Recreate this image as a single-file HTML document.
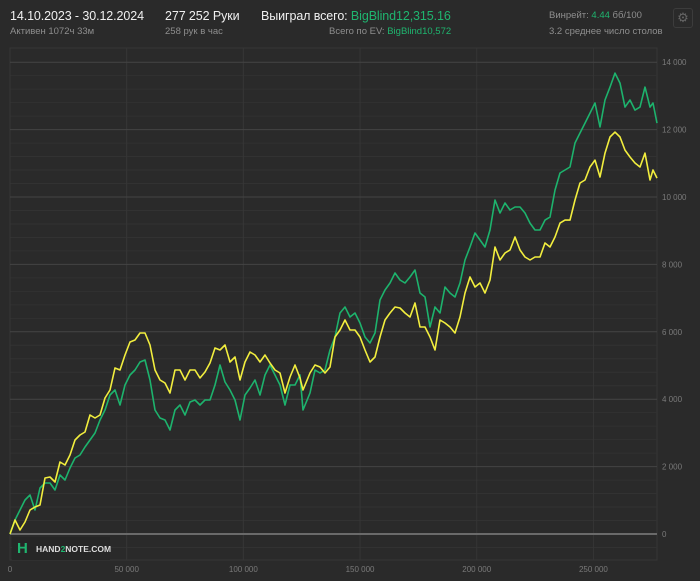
<!DOCTYPE html>
<html><head><meta charset="utf-8">
<style>
body{margin:0;width:700px;height:581px;background:#2a2a2a;font-family:"Liberation Sans","DejaVu Sans",sans-serif;overflow:hidden;position:relative}
.t{position:absolute;white-space:nowrap}
.big{color:#f0f0f0;font-size:12.5px;letter-spacing:-0.1px}
.sm{color:#8e8e8e;font-size:9.5px}
.g{color:#1fb56f}
</style></head><body>
<div class="t big" style="left:10px;top:9px">14.10.2023 - 30.12.2024</div>
<div class="t sm" style="left:10px;top:26px">Активен 1072ч 33м</div>
<div class="t big" style="left:165px;top:9px">277 252 Руки</div>
<div class="t sm" style="left:165px;top:26px">258 рук в час</div>
<div class="t big" style="left:261px;top:9px">Выиграл всего: <span class="g">BigBlind12,315.16</span></div>
<div class="t sm" style="left:329px;top:26px">Всего по EV: <span class="g">BigBlind10,572</span></div>
<div class="t sm" style="left:549px;top:10px">Винрейт: <span class="g">4.44</span> бб/100</div>
<div class="t sm" style="left:549px;top:26px">3.2 среднее число столов</div>
<div class="t" style="left:673px;top:8px;width:18px;height:18px;border:1px solid #3c3c3c;border-radius:3px;color:#666;font-size:13px;text-align:center;line-height:18px">⚙</div>
<svg id="chart" width="700" height="581" style="position:absolute;left:0;top:0"></svg>
<div class="t" style="left:12px;top:537px;width:98px;height:23px;background:#262626">
<span style="position:absolute;left:5px;top:3px;color:#1fb56f;font-size:15px;font-weight:bold">H</span>
<span style="position:absolute;left:24px;top:7px;color:#ddd;font-size:8.5px;font-weight:bold">HAND<span class="g">2</span>NOTE.COM</span></div>
<script>
const hands=[0,2143,4285,6428,8570,10713,12855,14998,17140,19283,21425,23568,25710,27853,29995,32138,34280,36423,38565,40708,42850,44993,47135,49278,51420,53563,55705,57848,59990,62133,64275,66418,68560,70703,72845,74988,77130,79273,81415,83558,85700,87843,89985,92128,94270,96413,98555,100698,102840,104983,107125,109268,111410,113553,115695,117838,119980,122123,124265,125550,128550,130693,132835,134978,137120,139263,141405,143548,145690,147833,149975,152118,154260,156403,158545,160688,162830,164973,167115,169258,171400,173543,175685,177828,179970,182113,184255,186398,188540,190683,192825,194968,197110,199253,201395,203538,205680,207823,209965,212108,214250,216393,218535,220678,222820,224963,227105,229248,231390,233533,235675,237818,239960,242103,244245,246388,248530,250673,252815,254958,257100,259243,261385,263528,265670,267813,269955,272098,274240,275525,277252];
const won=[0,415,712,1009,1157,712,1365,1513,1513,1305,1750,1602,1958,2255,2344,2581,2789,2997,3382,3679,4124,4272,3827,4421,4718,4866,5103,5163,4569,3679,3442,3382,3086,3679,3827,3531,3916,3976,3827,3976,3976,4421,5014,4510,4272,3976,3382,4124,4332,4569,4124,4718,5014,4718,4421,3827,4421,4421,4718,3679,4183,4866,4777,4866,5459,5845,6557,6735,6438,6557,6260,5845,5667,5964,6943,7239,7447,7744,7536,7447,7625,7833,7150,7032,6142,6735,6557,7328,7150,7032,7447,8130,8515,8931,8723,8515,9020,9910,9524,9821,9613,9702,9702,9524,9227,9020,9020,9316,9405,10206,10711,10800,10889,11601,11898,12194,12491,12788,12076,12877,13262,13678,13381,12669,12877,12580,12669,13262,12669,12788,12194];
const ev=[0,415,119,356,712,801,860,1662,1691,1543,2136,2047,2344,2789,2937,3026,3531,3442,3531,4035,4272,4925,4866,5311,5697,5756,5964,5964,5608,4866,4569,4480,4183,4866,4866,4569,4866,4866,4629,4807,5074,5519,5459,5608,5103,5252,4569,5103,5400,5311,5103,5311,5074,4866,4777,4183,4658,5014,4629,4272,4777,5014,4955,4777,4955,5845,6053,6349,6053,6053,5845,5459,5103,5252,5845,6349,6557,6735,6705,6557,6438,6854,6142,6142,5845,5459,6349,6260,6142,5964,6438,7150,7625,7328,7447,7150,7536,8515,8130,8337,8426,8812,8426,8219,8130,8219,8219,8634,8515,8812,9227,9316,9316,9910,10414,10503,10889,11096,10592,11304,11779,11927,11779,11393,11186,11008,10889,11304,10503,10800,10562];
const yTicks=[0,2000,4000,6000,8000,10000,12000,14000];
const yTickLabels=["0","2 000","4 000","6 000","8 000","10 000","12 000","14 000"];
const xTicks=[0,50000,100000,150000,200000,250000];
const xTickLabels=["0","50 000","100 000","150 000","200 000","250 000"];
const L=10,R=657,T=48,B=560,maxH=277252;
const X=h=>L+(R-L)*h/maxH;
const Y=v=>534-(v)*67.4/2000;
const svg=document.getElementById('chart');
const NS='http://www.w3.org/2000/svg';
function mk(tag,attrs){const e=document.createElementNS(NS,tag);for(const k in attrs)e.setAttribute(k,attrs[k]);svg.appendChild(e);return e;}
let fr=mk('rect',{x:L,y:T,width:R-L,height:B-T,fill:'none',stroke:'#363636'});


for(let v=-800;v<=14000;v+=400){if(v%2000===0)continue;const y=Y(v);if(y<T||y>B)continue;
 const l=mk('line',{x1:L,x2:R,y1:y,y2:y,stroke:'#323232','stroke-width':1});
 
 }
xTicks.forEach((t,i)=>{const x=X(t);
 const l=mk('line',{x1:x,x2:x,y1:T,y2:B,stroke:'#363636'});
 
 
 const tx=mk('text',{x:x,y:572,fill:'#7a7a7a','font-size':8,'text-anchor':'middle','font-family':'Liberation Sans, sans-serif'});
 tx.textContent=xTickLabels[i];
 
 });
yTicks.forEach((t,i)=>{const y=Y(t);
 const l=mk('line',{x1:L,x2:R,y1:y,y2:y,stroke:t===0?'#6a6a6a':'#444','stroke-width':t===0?2:1});
 
 
 const tx=mk('text',{x:662,y:y+3,fill:'#7a7a7a','font-size':8,'font-family':'Liberation Sans, sans-serif'});
 tx.textContent=yTickLabels[i];
 
 });
function line(vals,color,name){
 const d=vals.map((v,i)=>(i?'L':'M')+X(hands[i]).toFixed(1)+' '+Y(v).toFixed(1)).join(' ');
 const p=mk('path',{d:d,fill:'none',stroke:color,'stroke-width':1.6,'stroke-linejoin':'round'});
 
 }
line(won,'#1db36d','won-line');
line(ev,'#f2ee3e','ev-line');
</script>
</body></html>
